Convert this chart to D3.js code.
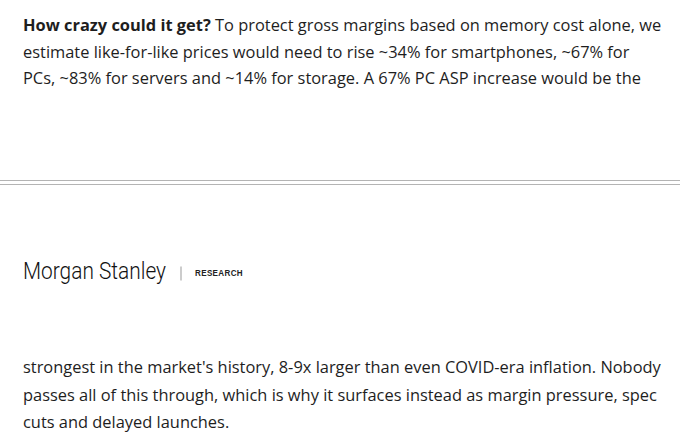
<!DOCTYPE html>
<html>
<head>
<meta charset="utf-8">
<script src="https://cdn.jsdelivr.net/npm/d3@7"></script>
<style>
  html, body { margin: 0; padding: 0; background: #fff; }
  svg { display: block; }
</style>
</head>
<body>
<svg id="page" width="680" height="442"></svg>
<script>
// text content, one entry per rendered line
var topLines = [
  [{t: 'How crazy could it get?', b: true}, {t: ' To protect gross margins based on memory cost alone, we'}],
  [{t: 'estimate like-for-like prices would need to rise ~34% for smartphones, ~67% for'}],
  [{t: 'PCs, ~83% for servers and ~14% for storage. A 67% PC ASP increase would be the'}]
];
var bottomLines = [
  [{t: "strongest in the market's history, 8-9x larger than even COVID-era inflation. Nobody"}],
  [{t: 'passes all of this through, which is why it surfaces instead as margin pressure, spec'}],
  [{t: 'cuts and delayed launches.'}]
];
var brandName = 'Morgan Stanley';
var brandTag = 'RESEARCH';

var W = 680, H = 442;
var left = 23;
var bodyFont = '"Open Sans", "Noto Sans", sans-serif';
var ink = '#1e1e1e';

var svg = d3.select('#page');

// line positions
var yTop = d3.scalePoint().domain(d3.range(topLines.length)).range([31, 84]);
var yBottom = d3.scalePoint().domain(d3.range(bottomLines.length)).range([373, 428]);

function drawBlock(lines, y, cls) {
  var g = svg.append('g').attr('class', cls);
  var rows = g.selectAll('text').data(lines).enter().append('text')
    .attr('x', left)
    .attr('y', function(d, i){ return y(i); })
    .attr('font-family', bodyFont)
    .attr('font-size', 16)
    .attr('fill', ink);
  rows.selectAll('tspan').data(function(d){ return d; }).enter().append('tspan')
    .attr('font-weight', function(d){ return d.b ? 700 : 400; })
    .style('white-space', 'pre')
    .text(function(d){ return d.t; });
  return rows;
}

var topRows = drawBlock(topLines, yTop, 'para-top');
var bottomRows = drawBlock(bottomLines, yBottom, 'para-bottom');

//fit the font size so the first line spans the same width as the reference
var firstWidth = topRows.node().getComputedTextLength();
var fitSize = 16 * (662 - left) / firstWidth;
topRows.attr('font-size', fitSize);
bottomRows.attr('font-size', fitSize);

// divider
var divider = svg.append('g').attr('class', 'divider');
divider.selectAll('line').data([180.5, 184.5]).enter().append('line')
  .attr('x1', 0).attr('x2', W)
  .attr('y1', function(d){ return d; })
  .attr('y2', function(d){ return d; })
  .attr('stroke', '#b4b4b4')
  .attr('stroke-width', 1.2);

// brand mark
var brand = svg.append('g').attr('class', 'brand');
brand.append('text')
  .attr('x', left)
  .attr('y', 278.5)
  .attr('font-family', 'Roboto, "Liberation Sans", Arial, sans-serif')
  .attr('font-weight', 300)
  .attr('font-size', 23)
  .attr('fill', '#111')
  .attr('textLength', 143)
  .attr('lengthAdjust', 'spacingAndGlyphs')
  .text(brandName);

brand.append('line')
  .attr('x1', 181).attr('x2', 181)
  .attr('y1', 266.5).attr('y2', 280.5)
  .attr('stroke', '#999')
  .attr('stroke-width', 1);

brand.append('text')
  .attr('x', 195)
  .attr('y', 275.7)
  .attr('font-family', '"Liberation Sans", Arial, sans-serif')
  .attr('font-size', 8.8)
  .attr('font-weight', 700)
  .attr('letter-spacing', 0.4)
  .attr('textLength', 48)
  .attr('lengthAdjust', 'spacingAndGlyphs')
  .attr('fill', '#222')
  .text(brandTag);
</script>
</body>
</html>
